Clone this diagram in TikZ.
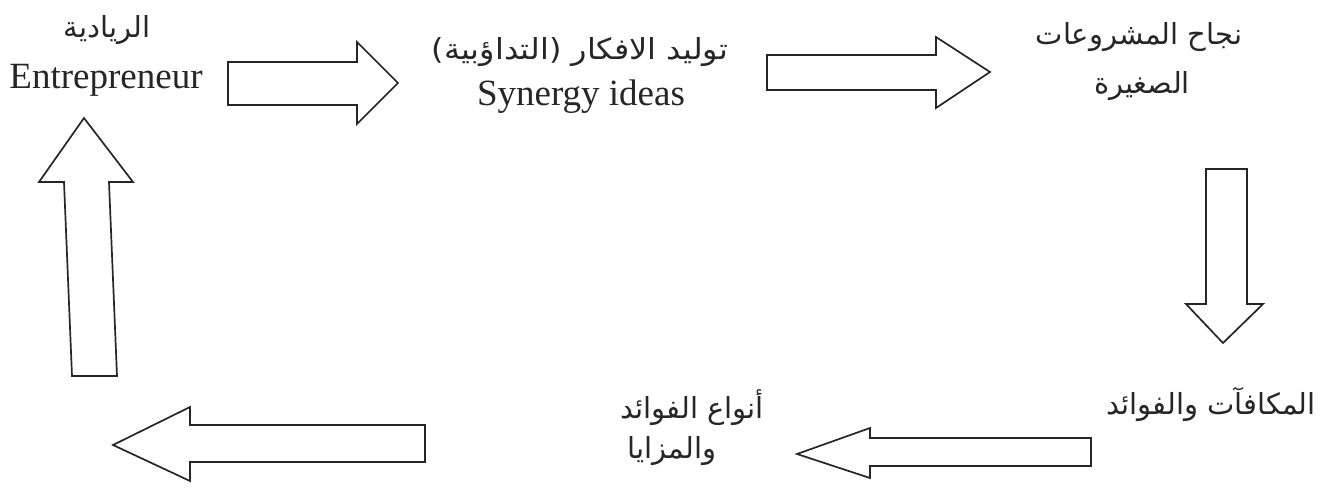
\documentclass[tikz,border=0pt]{standalone}
\usepackage{fontspec}
\setmainfont{Liberation Serif}
\newfontfamily\arabicfont[Script=Arabic]{DejaVu Sans}
\TeXXeTstate=1
\begin{document}
\begin{tikzpicture}[x=1pt,y=-1pt,
  blockarrow/.style={draw=black!85, line width=1.7pt, line join=miter, fill=white},
  lat/.style={font=\fontsize{37}{40}\selectfont, inner sep=0pt, text=black!85},
  ar/.style={font=\arabicfont\fontsize{29}{32}\selectfont, inner sep=0pt, text=black!85}]
\useasboundingbox (0,0) rectangle (1333,499);
% texts
\node[ar] (riy) at (107,30) {\beginR الريادية\endR};
\node[lat, anchor=base] (ent) at (106,88) {Entrepreneur};
\node[ar, xscale=1.1] (tawl) at (580,52) {\beginR توليد الافكار (التداؤبية)\endR};
\node[lat, anchor=base] (syn) at (581,105) {Synergy ideas};
\node[ar] (najah) at (1139,37) {\beginR نجاح المشروعات\endR};
\node[ar] (sagh) at (1142,86) {\beginR الصغيرة\endR};
\node[ar] (mukaf) at (1211,404) {\beginR المكافآت والفوائد\endR};
\node[ar] (anwa) at (692,408) {\beginR أنواع الفوائد\endR};
\node[ar] (maza) at (672,451) {\beginR والمزايا\endR};
% block arrows
\draw[blockarrow] (228,62) -- (357,62) -- (357,42) -- (398,83) -- (357,124) -- (357,105) -- (228,105) -- cycle;
\draw[blockarrow] (767,55) -- (936,55) -- (936,37) -- (990,72) -- (936,108) -- (936,90) -- (767,90) -- cycle;
\draw[blockarrow] (1206,169) -- (1247,169) -- (1247,304) -- (1263,304) -- (1223,343) -- (1186,304) -- (1206,304) -- cycle;
\draw[blockarrow] (1091,438) -- (870,438) -- (870,428) -- (797,454) -- (870,478) -- (870,466) -- (1091,466) -- cycle;
\draw[blockarrow] (425,425) -- (190,425) -- (190,407) -- (113,445) -- (190,481) -- (190,462) -- (425,462) -- cycle;
\draw[blockarrow] (72,376) -- (64,182) -- (39,182) -- (84,118) -- (133,182) -- (109,182) -- (117,376) -- cycle;
\end{tikzpicture}
\end{document}
